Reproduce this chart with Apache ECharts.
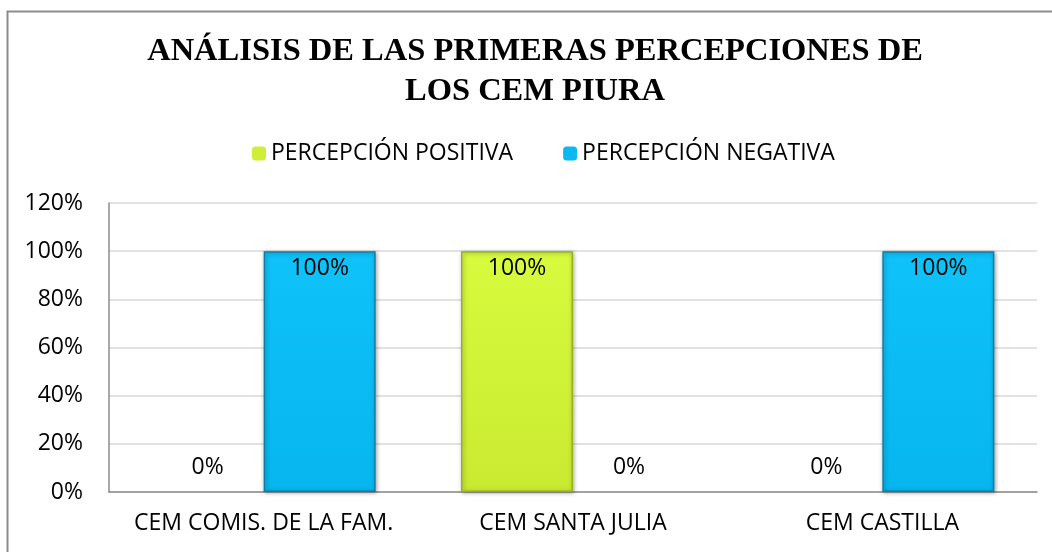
<!DOCTYPE html>
<html>
<head>
<meta charset="utf-8">
<script src="https://cdn.jsdelivr.net/npm/echarts@6/dist/echarts.min.js"></script>
<style>
  html, body { margin: 0; padding: 0; background: #fff; }
  #chart { width: 1052px; height: 552px; }
</style>
</head>
<body>
<div id="chart"></div>
<script>
// datos del gráfico
const categories = ['CEM COMIS. DE LA FAM.', 'CEM SANTA JULIA', 'CEM CASTILLA']
const positiva = [0, 100, 0]
const negativa = [100, 0, 100]
const yTicks = [0, 20, 40, 60, 80, 100, 120]

const font = '"Open Sans", Lato, sans-serif'
const fsize = 23

function barColor(top, bottom) {
  return new echarts.graphic.LinearGradient(0, 0, 0, 1, [
    { offset: 0, color: top },
    { offset: 1, color: bottom },
  ])
}

// etiqueta: dentro arriba si hay barra, encima si vale 0
function withLabels(values) {
  return values.map(v => v > 0
    ? { value: v, label: { position: 'insideTop', distance: 6 } }
    : {
        value: v,
        label: { position: 'top', distance: 13 },
        itemStyle: { borderWidth: 0, shadowBlur: 0, shadowOffsetX: 0, shadowOffsetY: 0 },
      })
}

const chart = echarts.init(document.getElementById('chart'))
const option = {
  animation: false,
  title: {
    text: 'ANÁLISIS DE LAS PRIMERAS PERCEPCIONES DE\nLOS CEM PIURA',
    left: 535,
    top: 32,
    padding: 0,
    textAlign: 'center',
    textStyle: {
      fontFamily: '"Liberation Serif", serif',
      fontWeight: 'bold',
      fontSize: 32.5,
      lineHeight: 40,
      color: '#000',
    },
  },
  legend: {
    top: 137,
    left: 247,
    itemWidth: 14,
    itemHeight: 14,
    itemGap: 50,
    textStyle: { fontFamily: font, fontSize: fsize, color: '#000' },
    data: [
      { name: 'PERCEPCIÓN POSITIVA', itemStyle: { color: '#cfee34', borderWidth: 0 } },
      { name: 'PERCEPCIÓN NEGATIVA', itemStyle: { color: '#0bb8ef', borderWidth: 0 } },
    ],
  },
  grid: { left: 109, right: 15, top: 203, bottom: 60 },
  xAxis: {
    type: 'category',
    data: categories,
    axisLine: { lineStyle: { color: '#8c8c8c', width: 1.5 } },
    axisTick: { show: false },
    axisLabel: { interval: 0, fontFamily: font, fontSize: fsize, color: '#000', margin: 20 },
  },
  yAxis: {
    type: 'value',
    min: 0,
    max: 120,
    interval: 20,
    axisLine: { show: true, lineStyle: { color: '#8c8c8c', width: 1.5 } },
    axisTick: { show: false },
    splitLine: { lineStyle: { color: '#d9d9d9', width: 1.5 } },
    axisLabel: {
      fontFamily: font,
      fontSize: fsize,
      color: '#000',
      margin: 26,
      formatter: v => (yTicks.includes(v) ? v + '%' : ''),
    },
  },
  series: [
    {
      name: 'PERCEPCIÓN POSITIVA',
      type: 'bar',
      barWidth: 112,
      barGap: '0%',
      data: withLabels(positiva),
      itemStyle: {
        color: barColor('#d8fb3e', '#c9ea30'),
        borderColor: '#98b21f',
        borderWidth: 1.5,
        shadowColor: 'rgba(0,0,0,0.35)',
        shadowBlur: 4,
        shadowOffsetX: 1,
        shadowOffsetY: 1,
      },
      label: {
        show: true,
        formatter: p => p.value + '%',
        fontFamily: font,
        fontSize: fsize,
        color: '#000',
      },
    },
    {
      name: 'PERCEPCIÓN NEGATIVA',
      type: 'bar',
      barWidth: 112,
      barGap: '0%',
      data: withLabels(negativa),
      itemStyle: {
        color: barColor('#0fc2fa', '#07b6ee'),
        borderColor: '#0a7fa6',
        borderWidth: 1.5,
        shadowColor: 'rgba(0,0,0,0.35)',
        shadowBlur: 4,
        shadowOffsetX: 1,
        shadowOffsetY: 1,
      },
      label: {
        show: true,
        formatter: p => p.value + '%',
        fontFamily: font,
        fontSize: fsize,
        color: '#000',
      },
    },
  ],
  graphic: [
    {
      type: 'rect',
      shape: { x: 7.5, y: 11.5, width: 1060, height: 560 },
      style: { fill: 'none', stroke: '#8c8c8c', lineWidth: 2 },
      silent: true,
    },
  ],
}
chart.setOption(option)
</script>
</body>
</html>
